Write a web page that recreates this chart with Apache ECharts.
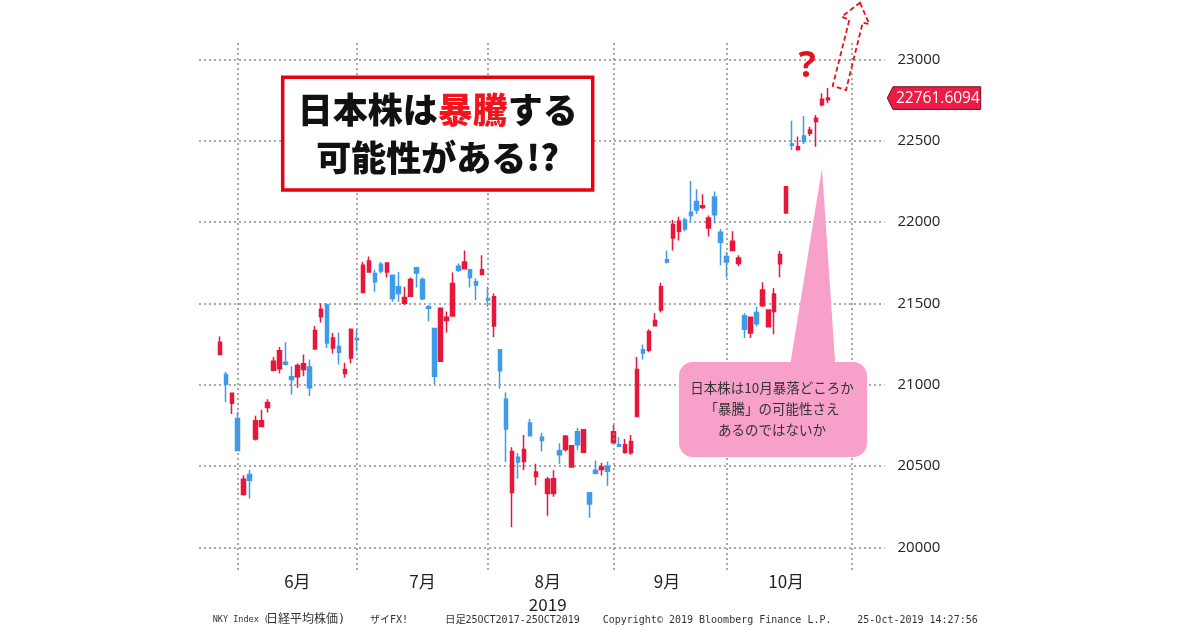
<!DOCTYPE html>
<html>
<head>
<meta charset="utf-8">
<script src="https://cdn.jsdelivr.net/npm/echarts@6/dist/echarts.min.js"></script>
<style>
html,body{margin:0;padding:0;background:#fff;}
#main{width:1200px;height:630px;}
</style>
</head>
<body>
<div id="main"></div>
<script>
// Category axis: trading days (with empty slots before/after the data)
const dates = ['5/23','5/24','5/27','5/28','5/29','5/30','5/31',
'6/3','6/4','6/5','6/6','6/7','6/10','6/11','6/12','6/13','6/14','6/17','6/18','6/19','6/20','6/21','6/24','6/25','6/26','6/27','6/28',
'7/1','7/2','7/3','7/4','7/5','7/8','7/9','7/10','7/11','7/12','7/16','7/17','7/18','7/19','7/22','7/23','7/24','7/25','7/26','7/29','7/30','7/31',
'8/1','8/2','8/5','8/6','8/7','8/8','8/9','8/13','8/14','8/15','8/16','8/19','8/20','8/21','8/22','8/23','8/26','8/27','8/28','8/29','8/30',
'9/2','9/3','9/4','9/5','9/6','9/9','9/10','9/11','9/12','9/13','9/17','9/18','9/19','9/20','9/24','9/25','9/26','9/27','9/30',
'10/1','10/2','10/3','10/4','10/7','10/8','10/9','10/10','10/11','10/15','10/16','10/17','10/18','10/21','10/23','10/24','10/25','10/28','10/29','10/30','10/31',
'11/1','11/5','11/6','11/7','11/8'];
const firstDataDate = '5/28';

const opens = [21185,21063,20886,20792,
20325,20447,20666,20743,20859,21089,21097,21138,21048,21048,21093,21109,21219,21418,21490,21225,21235,21069,21164,21284,
21567,21693,21683,21740,21693,21673,21601,21500,21544,21719,21646,21479,21345,21144,21394,21422,21727,21713,21707,21632,21677,21530,
21361,21215,20910,20337,20554,20528,20764,20436,20676,20331,20331,20593,20601,20493,20711,20585,20335,20473,20479,20499,20642,
20630,20585,20581,20804,21215,21211,21362,21459,21768,21902,21943,22012,22059,22126,22089,21963,22154,21937,21788,
21825,21744,21423,21317,21443,21485,21356,21450,21743,22055,22479,22446,22529,22545,22617,22720,22751];
const closes = [21260,21002,20947,20595,
20418,20412,20778,20778,20890,21144,21209,21126,21032,21118,21128,20981,21333,21463,21256,21286,21199,21093,21341,21276,
21734,21760,21632,21699,21748,21530,21561,21536,21646,21687,21528,21469,21052,21469,21414,21622,21703,21754,21658,21612,21707,21520,
21540,21086,20727,20589,20524,20601,20686,20463,20656,20418,20422,20569,20682,20625,20630,20723,20266,20455,20493,20467,20711,
20621,20630,20650,21093,21195,21327,21394,21601,21754,21984,22004,21957,22039,22073,22100,22024,22045,21876,21754,
21882,21778,21341,21414,21374,21582,21459,21557,21800,22216,22471,22463,22494,22566,22638,22755,22761.6094];
const lows = [21185,20894,20819,20595,
20317,20300,20656,20743,20829,21083,21069,21118,20939,20981,21052,20930,21219,21382,21225,21191,21124,21042,21130,21205,
21567,21693,21571,21683,21658,21510,21510,21490,21540,21597,21520,21388,21002,21144,21321,21422,21693,21713,21597,21520,21677,21479,
21292,20974,20524,20123,20422,20473,20686,20382,20589,20194,20310,20514,20589,20493,20599,20585,20182,20447,20442,20377,20642,
20621,20575,20569,20804,21154,21199,21362,21443,21744,21825,21886,21943,21998,22049,22079,21910,21992,21734,21658,
21821,21728,21286,21286,21358,21479,21352,21310,21660,22055,22442,22438,22479,22529,22463,22710,22730];
const highs = [21296,21077,20947,20833,
20443,20475,20809,20845,20910,21170,21231,21260,21113,21130,21185,21154,21361,21500,21500,21317,21321,21134,21341,21337,
21754,21788,21707,21754,21748,21673,21693,21601,21658,21723,21658,21490,21345,21469,21449,21689,21744,21825,21713,21652,21795,21601,
21561,21215,20951,20615,20579,20691,20788,20514,20703,20432,20473,20640,20691,20625,20735,20727,20335,20534,20520,20528,20752,
20676,20666,20691,21170,21246,21341,21439,21626,21825,22012,22032,22028,22252,22201,22171,22039,22187,21957,21815,
21943,21795,21439,21414,21479,21629,21459,21594,21821,22220,22623,22525,22652,22586,22658,22792,22823];

const yTicks = [20000, 20500, 21000, 21500, 22000, 22500, 23000];
const monthEndDates = ['5/31','6/28','7/31','8/30','9/30','10/31'];
const monthLabelDates = ['6/14','7/16','8/15','9/12','10/15'];
const monthLabelTexts = ['6月','7月','8月\n2019','9月','10月'];
const lastPriceText = '22761.6094';

const titleLine1 = ['日本株は', '暴騰', 'する'];
const titleLine2 = '可能性がある!?';
const calloutText = '日本株は10月暴落どころか\n「暴騰」の可能性さえ\nあるのではないか';
// [text, left x, font size]
const footerParts = [
  ['NKY Index (', 212.7, 8.5], ['日経平均株価)', 266, 12], ['ザイFX!', 370, 10],
  ['日足', 445, 10.5], ['25OCT2017-25OCT2019', 465.5, 10],
  ['Copyright© 2019 Bloomberg Finance L.P.', 602.7, 10], ['25-Oct-2019 14:27:56', 857.3, 10]
];

const RED = '#E8173A', BLUE = '#3E9BEA', GRID = '#8c8c8c';
const start = dates.indexOf(firstDataDate);
const candleData = dates.map((d, i) => {
  const k = i - start;
  if (k >= 0 && k < opens.length) return [opens[k], closes[k], lows[k], highs[k]];
  return ['-', '-', '-', '-'];
});

const chart = echarts.init(document.getElementById('main'), null, {renderer: 'canvas'});
const gridLeft = 199, gridRight = 315.5;
chart.setOption({
  animation: false,
  backgroundColor: '#fff',
  grid: [
    {left: gridLeft, right: gridRight, top: 59.3, bottom: 82.7},
    {left: gridLeft, right: gridRight, top: 43, bottom: 60}
  ],
  xAxis: [
    {type: 'category', gridIndex: 0, data: dates, boundaryGap: true,
     axisLine: {show: false}, axisTick: {show: false}, axisLabel: {show: false}, splitLine: {show: false}},
    {type: 'category', gridIndex: 1, data: dates, boundaryGap: true,
     axisLine: {show: false}, axisTick: {show: false}, splitLine: {show: false},
     axisLabel: {
       show: true, margin: 0,
       interval: (idx, val) => monthLabelDates.indexOf(val) >= 0,
       formatter: (val) => { const j = monthLabelDates.indexOf(val); return j >= 0 ? monthLabelTexts[j] : ''; },
       color: '#222', fontSize: 17, lineHeight: 23,
       fontFamily: '"Noto Sans CJK JP", "Noto Sans", sans-serif'
     }}
  ],
  yAxis: [
    {type: 'value', gridIndex: 0, position: 'right', min: yTicks[0], max: yTicks[yTicks.length - 1], interval: 500,
     axisLine: {show: false}, axisTick: {show: false},
     axisLabel: {margin: 13, color: '#222', fontSize: 15, fontFamily: '"Open Sans", "Noto Sans", sans-serif',
       formatter: (v) => String(v)},
     splitLine: {show: true, lineStyle: {color: GRID, width: 1.5, type: [2, 3]}}},
    {type: 'value', gridIndex: 1, min: 0, max: 1, show: false, splitLine: {show: false}}
  ],
  series: [
    {type: 'candlestick', xAxisIndex: 0, yAxisIndex: 0, data: candleData, barWidth: 4,
     itemStyle: {color: RED, color0: BLUE, borderColor: RED, borderColor0: BLUE, borderWidth: 1.5}},
    {type: 'line', xAxisIndex: 1, yAxisIndex: 1, data: dates.map(() => '-'), silent: true,
     markLine: {silent: true, symbol: 'none', label: {show: false},
       lineStyle: {color: GRID, width: 1.5, type: [2, 3]},
       data: monthEndDates.map(d => ({xAxis: d}))}}
  ]
});

const tagY = chart.convertToPixel({yAxisIndex: 0}, closes[closes.length - 1]);
const cjk = '"Noto Sans CJK JP", sans-serif';
const graphics = [
  // title box
  {type: 'rect', z: 100, shape: {x: 282.7, y: 77.3, width: 310, height: 112.7},
   style: {fill: '#fff', stroke: '#E50012', lineWidth: 3.5}},
  {type: 'text', z: 101, x: 437.7, y: 110,
   style: {text: '{k|' + titleLine1[0] + '}{r|' + titleLine1[1] + '}{k|' + titleLine1[2] + '}',
     align: 'center', verticalAlign: 'middle',
     rich: {k: {fill: '#111', fontSize: 35, fontWeight: 900, fontFamily: cjk},
            r: {fill: '#F0141E', fontSize: 35, fontWeight: 900, fontFamily: cjk}}}},
  {type: 'text', z: 101, x: 437.7, y: 158,
   style: {text: titleLine2, align: 'center', verticalAlign: 'middle', fill: '#111',
     fontSize: 35, fontWeight: 900, fontFamily: cjk}},
  // callout
  {type: 'polygon', z: 100, shape: {points: [[789.7, 368], [822, 168], [835.5, 368]]},
   style: {fill: '#F7A0C9'}},
  {type: 'rect', z: 100, shape: {x: 679, y: 362, width: 188, height: 95, r: 14},
   style: {fill: '#F7A0C9'}},
  {type: 'text', z: 101, x: 772, y: 409,
   style: {text: calloutText, align: 'center', verticalAlign: 'middle', fill: '#333',
     fontSize: 13.5, lineHeight: 21, fontFamily: cjk}},
  // question mark
  {type: 'text', z: 101, x: 807, y: 67,
   style: {text: '?', align: 'center', verticalAlign: 'middle', fill: '#E8101A',
     fontSize: 36, fontWeight: 'bold', fontFamily: '"Noto Sans", sans-serif'}},
  // dashed arrow
  {type: 'polygon', z: 101,
   shape: {points: [[860, 2.7], [869.3, 24], [862.7, 22.7], [846, 90], [832.7, 86], [849.3, 20], [841.7, 16.7]]},
   style: {fill: null, stroke: '#E8101A', lineWidth: 1.8, lineDash: [5, 3]}},
  // price tag
  {type: 'polygon', z: 101,
   shape: {points: [[887.3, tagY], [893, tagY - 11.3], [980.7, tagY - 11.3], [980.7, tagY + 11.3], [893, tagY + 11.3]]},
   style: {fill: '#EE1C45', stroke: '#6b1020', lineWidth: 1}},
  {type: 'text', z: 102, x: 896, y: tagY + 0.5,
   style: {text: lastPriceText, align: 'left', verticalAlign: 'middle', fill: '#fff',
     fontSize: 15.5, fontFamily: '"Open Sans", "Noto Sans", sans-serif'}}
];
footerParts.forEach(p => {
  graphics.push({type: 'text', z: 101, x: p[1], y: 620,
    style: {text: p[0], align: 'left', verticalAlign: 'middle', fill: '#333',
      fontSize: p[2], fontFamily: '"DejaVu Sans Mono", "Noto Sans CJK JP", monospace'}});
});
chart.setOption({graphic: graphics});
</script>
</body>
</html>
